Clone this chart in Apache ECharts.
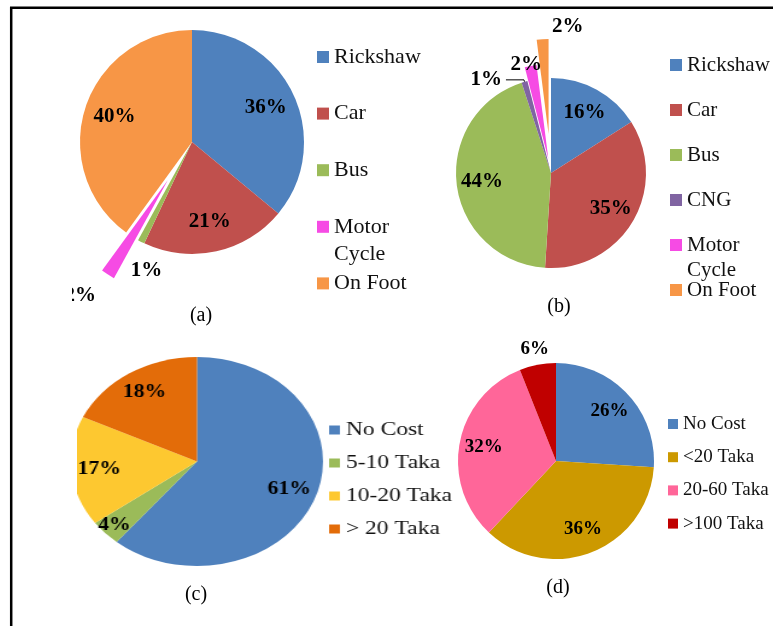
<!DOCTYPE html>
<html>
<head>
<meta charset="utf-8">
<script src="https://cdn.jsdelivr.net/npm/echarts@6/dist/echarts.min.js"></script>
<style>
  html, body { margin: 0; padding: 0; background: #fff; }
  #main { position: absolute; left: 0; top: 0; width: 773px; height: 626px; }
  /* panel (c) is drawn stretched sideways, like in the source figure */
  #costC { position: absolute; left: 77px; top: 340px; width: 320px; height: 250px;
           transform: scaleX(1.206); transform-origin: 0 0; }
</style>
</head>
<body>
<div id="main"></div>
<div id="costC"></div>
<script>
// (a) mode share
const modeNamesA = ['Rickshaw', 'Car', 'Bus', 'Motor Cycle', 'On Foot'];
const modeValuesA = [36, 21, 1, 2, 40];
// (b) mode share
const modeNamesB = ['Rickshaw', 'Car', 'Bus', 'CNG', 'Motor Cycle', 'On Foot'];
const modeValuesB = [16, 35, 44, 1, 2, 2];
// (c) travel cost
const costNamesC = ['No Cost', '5-10 Taka', '10-20 Taka', '> 20 Taka'];
const costValuesC = [61, 4, 17, 18];
// (d) travel cost
const costNamesD = ['No Cost', '<20 Taka', '20-60 Taka', '>100 Taka'];
const costValuesD = [26, 36, 32, 6];
const captions = ['(a)', '(b)', '(c)', '(d)'];

const modeColors = {
  'Rickshaw': '#4F81BD', 'Car': '#C0504D', 'Bus': '#9BBB59', 'CNG': '#8064A2',
  'Motor Cycle': '#F64BE4', 'On Foot': '#F79646'
};
const colorsA = modeNamesA.map(n => modeColors[n]);
const colorsB = modeNamesB.map(n => modeColors[n]);
const costColorsC = ['#4F81BD', '#9BBB59', '#FDC830', '#E36C09'];
const costColorsD = ['#4F81BD', '#CC9900', '#FF6699', '#C00000'];

const SERIF = '"Liberation Serif", "Times New Roman", serif';

// padding is used to nudge a label off its anchor point
function nudge(dx, dy) {
	dx = dx || 0; dy = dy || 0;
	return [Math.max(0, 2 * dy), Math.max(0, -2 * dx), Math.max(0, -2 * dy), Math.max(0, 2 * dx)];
}

function pieSeries(names, values, colors, o) {
	const series = [];
	const explode = o.explode || {};
	const outside = o.outside || {};
	const offsetOf = n => explode[n] || 0;
	const base = {
		type: 'pie', center: o.center, silent: true, animation: false,
		avoidLabelOverlap: false, emphasis: { disabled: true },
		labelLine: { show: false }
	};
	const font = { color: '#000', fontFamily: SERIF, fontWeight: 'bold', fontSize: o.font };

	// one layer of slices for every explode distance
	[...new Set(names.map(offsetOf))].forEach(g => {
		series.push(Object.assign({}, base, {
			radius: o.r, selectedMode: 'multiple', selectedOffset: g,
			label: { show: false },
			data: names.map((n, i) => ({
				name: n, value: values[i],
				selected: g > 0 && offsetOf(n) === g,
				itemStyle: { color: offsetOf(n) === g ? colors[i] : 'transparent' }
			}))
		}));
	});

	// percentages inside the slices (clear ring, so they sit further out)
	series.push(Object.assign({}, base, {
		radius: [o.r * o.ring, o.r],
		label: Object.assign({ show: true, position: 'inside', formatter: '{c}%' }, font),
		data: names.map((n, i) => ({
			name: n, value: values[i],
			itemStyle: { color: 'transparent' },
			label: { show: !outside[n] }
		}))
	}));

	// labels placed on their own: thin slices, outside the pie
	Object.keys(outside).forEach(key => {
		const s = outside[key];
		const g = offsetOf(key);
		const data = names.map((n, i) => ({
			name: n, value: values[i],
			selected: n === key && g > 0,
			itemStyle: { color: 'transparent' },
			label: { show: n === key },
			labelLine: { show: n === key && !!s.line }
		}));
		if (s.line) {
			series.push(Object.assign({}, base, {
				radius: o.r, selectedMode: 'multiple', selectedOffset: g,
				label: Object.assign({ show: true, position: 'outside', formatter: '{c}%',
					distanceToLabelLine: 4, padding: nudge(0, s.dy) }, font),
				labelLine: { show: true, length: s.len1, length2: s.len2,
					lineStyle: { color: '#000', width: 1 } },
				data: data
			}));
		} else {
			series.push(Object.assign({}, base, {
				radius: [o.r * (s.m - 0.03), o.r * (s.m + 0.03)],
				selectedMode: 'multiple', selectedOffset: g,
				label: Object.assign({ show: true, position: 'inside', formatter: '{c}%',
					padding: nudge(s.dx, s.dy) }, font),
				data: data
			}));
		}
	});
	return series;
}

// one legend per entry so the wrapped "Motor Cycle" keeps the even spacing
function legendColumn(names, colors, o) {
	return names.map((n, i) => {
		const wrap = n === 'Motor Cycle';
		return {
			orient: 'vertical', left: o.left,
			top: o.first + i * o.step - (wrap ? 1.5 : 0.5) * o.lh,
			padding: 0, selectedMode: false, icon: 'rect',
			itemWidth: o.icon, itemHeight: o.icon,
			textStyle: { fontFamily: SERIF, fontSize: o.font, lineHeight: o.lh, color: '#111' },
			formatter: name => wrap ? '\nMotor\nCycle' : name,
			data: [{ name: n, itemStyle: { color: colors[i] } }]
		};
	});
}

const main = echarts.init(document.getElementById('main'));
main.setOption({
	backgroundColor: '#fff',
	animation: false,
	legend: [].concat(
		legendColumn(modeNamesA, colorsA, { left: 317, first: 57, step: 56.6, lh: 27, icon: 12, font: 22 }),
		legendColumn(modeNamesB, colorsB, { left: 670, first: 65, step: 45, lh: 25, icon: 12, font: 21 }),
		legendColumn(costNamesD, costColorsD, { left: 668, first: 424, step: 33.2, lh: 22, icon: 10, font: 19 })
	),
	series: [].concat(
		pieSeries(modeNamesA, modeValuesA, colorsA, {
			center: [192, 142], r: 112, ring: 0.4, font: 21,
			explode: { 'Motor Cycle': 45 },
			outside: { 'Bus': { m: 1.26, dx: 20 }, 'Motor Cycle': { m: 1.2, dx: -14 } }
		}),
		pieSeries(modeNamesB, modeValuesB, colorsB, {
			center: [551, 173], r: 95, ring: 0.4, font: 21,
			explode: { 'Motor Cycle': 14, 'On Foot': 39 },
			outside: {
				'CNG': { line: true, len1: 2, len2: 18, dy: -8 },
				'Motor Cycle': { m: 0.98, dx: -4, dy: 3 },
				'On Foot': { m: 1.1, dx: 26, dy: 4 }
			}
		}),
		pieSeries(costNamesD, costValuesD, costColorsD, {
			center: [556, 461], r: 98, ring: 0.44, font: 19,
			outside: { '>100 Taka': { m: 1.13 } }
		})
	),
	graphic: [
		{ type: 'polyline', z: 100, shape: { points: [[11.2, 626], [11.2, 7.8], [773, 7.8]] },
		  style: { stroke: '#000', lineWidth: 2.5, fill: null } },
		// panel (a) is cut at its left edge
		{ type: 'rect', z: 100, shape: { x: 14, y: 278, width: 58, height: 32 }, style: { fill: '#fff' } }
	].concat(captions.map((t, i) => ({
		type: 'text', z: 100,
		x: [201, 559, 196, 558][i], y: [316, 307, 595, 588][i],
		style: { text: t, fontFamily: SERIF, fontSize: 20, fill: '#000', align: 'center', verticalAlign: 'middle' }
	})))
});

const cost = echarts.init(document.getElementById('costC'));
cost.setOption({
	animation: false,
	legend: legendColumn(costNamesC, costColorsC, { left: 209, first: 90, step: 33, lh: 22, icon: 9, font: 19.5 }),
	series: pieSeries(costNamesC, costValuesC, costColorsC, {
		center: [99.5, 121.5], r: 104.5, ring: 0.5, font: 18,
		outside: { '5-10 Taka': { m: 0.87 } }
	})
});
</script>
</body>
</html>
